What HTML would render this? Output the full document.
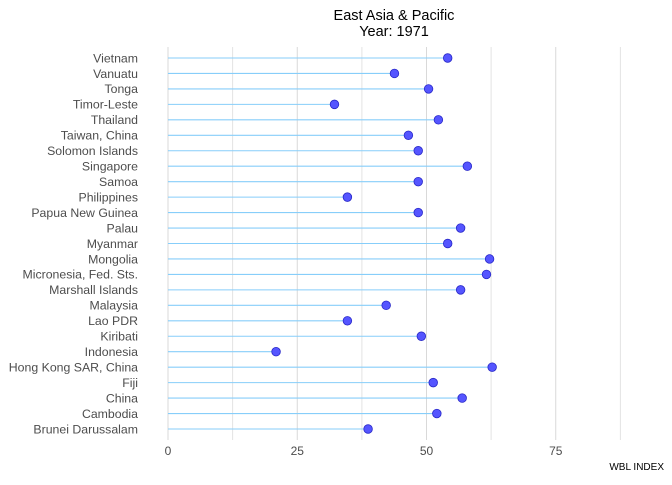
<!DOCTYPE html>
<html><head><meta charset="utf-8"><style>
body{margin:0;background:#fff;font-family:"Liberation Sans",sans-serif}
</style></head><body>
<svg id="chart" width="672" height="480" xmlns="http://www.w3.org/2000/svg" font-family="Liberation Sans, sans-serif">
<text x="394" y="20" text-anchor="middle" font-size="14.5" fill="#000">East Asia &amp; Pacific</text>
<text x="394" y="36" text-anchor="middle" font-size="14.5" fill="#000">Year: 1971</text>
<g id="grid"></g><g id="marks"></g><g id="labels"></g>
<text x="664" y="470" text-anchor="end" font-size="10" fill="#000">WBL INDEX</text>
</svg>
<script>
const countries=["Vietnam","Vanuatu","Tonga","Timor-Leste","Thailand","Taiwan, China","Solomon Islands","Singapore","Samoa","Philippines","Papua New Guinea","Palau","Myanmar","Mongolia","Micronesia, Fed. Sts.","Marshall Islands","Malaysia","Lao PDR","Kiribati","Indonesia","Hong Kong SAR, China","Fiji","China","Cambodia","Brunei Darussalam"];
const values=[54.1,43.8,50.4,32.2,52.3,46.5,48.4,57.9,48.4,34.7,48.4,56.6,54.1,62.2,61.6,56.6,42.2,34.7,49,20.9,62.7,51.3,56.9,52,38.7];
const xTicks=[0,25,50,75];
const xMinor=[12.5,37.5,62.5,87.5];
const NS="http://www.w3.org/2000/svg";
const x=v=>168+v*5.17;
const y=i=>58+i*(429-58)/(countries.length-1);
function mk(t,a,p){const e=document.createElementNS(NS,t);for(const k in a)e.setAttribute(k,a[k]);p.appendChild(e);return e;}
const g=document.getElementById('grid'),m=document.getElementById('marks'),l=document.getElementById('labels');
xMinor.forEach(v=>{const e=mk('line',{x1:x(v),x2:x(v),y1:47,y2:440,stroke:'#e3e3e3','stroke-width':1},g);

});
xTicks.forEach(v=>{const e=mk('line',{x1:x(v),x2:x(v),y1:47,y2:440,stroke:'#d9d9d9','stroke-width':1},g);


const t=mk('text',{x:x(v),y:455,'text-anchor':'middle','font-size':12,fill:'#4d4d4d'},l);t.textContent=v;

});
countries.forEach((c,i)=>{
const ln=mk('line',{x1:x(0),x2:x(values[i]),y1:y(i),y2:y(i),stroke:'#87cefa','stroke-width':1.1},m);


const d=mk('circle',{cx:x(values[i]),cy:y(i),r:4.3,fill:'#5555ff',stroke:'#2828c8','stroke-width':0.8},m);


const t=mk('text',{x:138,y:y(i)+4.3,'text-anchor':'end','font-size':12.3,fill:'#4d4d4d'},l);t.textContent=c;


});
</script>
</body></html>
